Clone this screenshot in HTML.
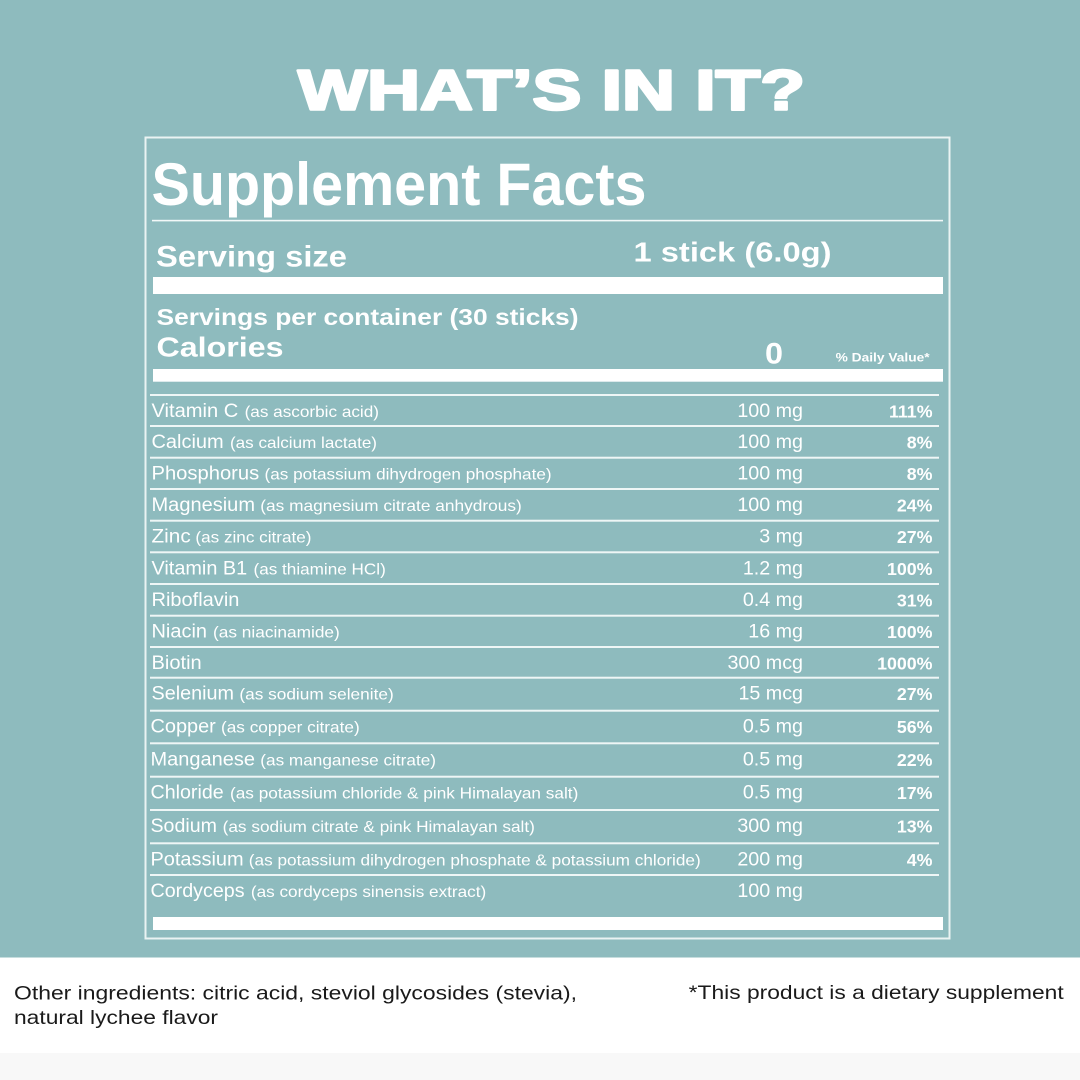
<!DOCTYPE html>
<html>
<head>
<meta charset="utf-8">
<style>
  html, body { margin: 0; padding: 0; background: #ffffff; }
  svg { display: block; }
  .w { fill: #ffffff; font-family: "Liberation Sans", Arial, sans-serif; }
  .b { font-weight: bold; }
  .k { fill: #1a1a1a; font-family: "Liberation Sans", Arial, sans-serif; }
</style>
</head>
<body>
<svg width="1080" height="1080" viewBox="0 0 1080 1080" xmlns="http://www.w3.org/2000/svg">
  <!-- backgrounds -->
  <rect x="0" y="0" width="1080" height="957.5" fill="#8ebbbe"/>
  <rect x="0" y="957.5" width="1080" height="96" fill="#ffffff"/>
  <rect x="0" y="1053" width="1080" height="27" fill="#f8f8f8"/>

  <!-- title -->
  <text class="w b" x="298" y="109.5" font-size="57" textLength="507" lengthAdjust="spacingAndGlyphs" stroke="#ffffff" stroke-width="2.6" stroke-linejoin="round">WHAT’S IN IT?</text>

  <!-- box border -->
  <rect x="145.5" y="137.5" width="804" height="801" fill="none" stroke="#eaf3f3" stroke-width="2"/>

  <!-- Supplement Facts -->
  <text class="w b" x="151.5" y="205" font-size="60" textLength="495" lengthAdjust="spacingAndGlyphs">Supplement Facts</text>
  <rect x="152" y="219.8" width="791" height="1.6" fill="#f2f8f8"/>

  <text class="w b" x="156" y="266.3" font-size="30" textLength="191" lengthAdjust="spacingAndGlyphs">Serving size</text>
  <text class="w b" x="633.5" y="261.7" font-size="28" textLength="198" lengthAdjust="spacingAndGlyphs">1 stick (6.0g)</text>
  <rect x="153" y="277" width="790" height="17" fill="#ffffff"/>

  <text class="w b" x="156.5" y="325" font-size="23.3" textLength="422" lengthAdjust="spacingAndGlyphs">Servings per container (30 sticks)</text>
  <text class="w b" x="156.5" y="356.7" font-size="28" textLength="127" lengthAdjust="spacingAndGlyphs">Calories</text>
  <text class="w b" x="765" y="363.3" font-size="30" textLength="18" lengthAdjust="spacingAndGlyphs">0</text>
  <text class="w b" x="835.6" y="361.3" font-size="12" textLength="94" lengthAdjust="spacingAndGlyphs">% Daily Value*</text>
  <rect x="153" y="369" width="790" height="12.7" fill="#ffffff"/>

  <!-- row separator lines -->
  <g fill="#eef6f6">
    <rect x="150" y="394" width="789" height="2"/>
    <rect x="150" y="425" width="789" height="2"/>
    <rect x="150" y="456.7" width="789" height="2"/>
    <rect x="150" y="488" width="789" height="2"/>
    <rect x="150" y="519.7" width="789" height="2"/>
    <rect x="150" y="551.3" width="789" height="2"/>
    <rect x="150" y="583" width="789" height="2"/>
    <rect x="150" y="614.7" width="789" height="2"/>
    <rect x="150" y="646" width="789" height="2"/>
    <rect x="150" y="676.7" width="789" height="2"/>
    <rect x="150" y="709.7" width="789" height="2"/>
    <rect x="150" y="742.3" width="789" height="2"/>
    <rect x="150" y="775.7" width="789" height="2"/>
    <rect x="150" y="809" width="789" height="2"/>
    <rect x="150" y="842.3" width="789" height="2"/>
    <rect x="150" y="874" width="789" height="2"/>
  </g>

  <!-- rows: names -->
  <g class="w" font-size="19">
    <text x="151.5" y="417" textLength="86.8" lengthAdjust="spacingAndGlyphs">Vitamin C</text>
    <text x="151.5" y="448" textLength="72.2" lengthAdjust="spacingAndGlyphs">Calcium</text>
    <text x="151.5" y="479.7" textLength="107.7" lengthAdjust="spacingAndGlyphs">Phosphorus</text>
    <text x="151.5" y="511" textLength="103.5" lengthAdjust="spacingAndGlyphs">Magnesium</text>
    <text x="151.5" y="542.7" textLength="39.2" lengthAdjust="spacingAndGlyphs">Zinc</text>
    <text x="151.5" y="574.3" textLength="95.7" lengthAdjust="spacingAndGlyphs">Vitamin B1</text>
    <text x="151.5" y="606" textLength="87.9" lengthAdjust="spacingAndGlyphs">Riboflavin</text>
    <text x="151.5" y="637.7" textLength="55.5" lengthAdjust="spacingAndGlyphs">Niacin</text>
    <text x="151.5" y="669" textLength="50.2" lengthAdjust="spacingAndGlyphs">Biotin</text>
    <text x="151.5" y="699.7" textLength="82.5" lengthAdjust="spacingAndGlyphs">Selenium</text>
    <text x="150.5" y="732.7" textLength="65.3" lengthAdjust="spacingAndGlyphs">Copper</text>
    <text x="150.5" y="765.3" textLength="104.5" lengthAdjust="spacingAndGlyphs">Manganese</text>
    <text x="150.5" y="798.7" textLength="73.2" lengthAdjust="spacingAndGlyphs">Chloride</text>
    <text x="150.5" y="832" textLength="66.4" lengthAdjust="spacingAndGlyphs">Sodium</text>
    <text x="150.5" y="865.3" textLength="93.1" lengthAdjust="spacingAndGlyphs">Potassium</text>
    <text x="150.5" y="897" textLength="94.1" lengthAdjust="spacingAndGlyphs">Cordyceps</text>
  </g>

  <!-- rows: parentheticals -->
  <g class="w" font-size="16">
    <text x="244.6" y="417" textLength="134.4" lengthAdjust="spacingAndGlyphs">(as ascorbic acid)</text>
    <text x="230" y="448" textLength="147" lengthAdjust="spacingAndGlyphs">(as calcium lactate)</text>
    <text x="264.5" y="479.7" textLength="287.1" lengthAdjust="spacingAndGlyphs">(as potassium dihydrogen phosphate)</text>
    <text x="260.3" y="511" textLength="261.5" lengthAdjust="spacingAndGlyphs">(as magnesium citrate anhydrous)</text>
    <text x="195.4" y="542.7" textLength="116.1" lengthAdjust="spacingAndGlyphs">(as zinc citrate)</text>
    <text x="253.5" y="574.3" textLength="132.3" lengthAdjust="spacingAndGlyphs">(as thiamine HCl)</text>
    <text x="213" y="637.7" textLength="126.8" lengthAdjust="spacingAndGlyphs">(as niacinamide)</text>
    <text x="239.4" y="699.7" textLength="154.3" lengthAdjust="spacingAndGlyphs">(as sodium selenite)</text>
    <text x="221" y="732.7" textLength="138.7" lengthAdjust="spacingAndGlyphs">(as copper citrate)</text>
    <text x="260.3" y="765.3" textLength="175.7" lengthAdjust="spacingAndGlyphs">(as manganese citrate)</text>
    <text x="230" y="798.7" textLength="348.3" lengthAdjust="spacingAndGlyphs">(as potassium chloride &amp; pink Himalayan salt)</text>
    <text x="222.6" y="832" textLength="312.3" lengthAdjust="spacingAndGlyphs">(as sodium citrate &amp; pink Himalayan salt)</text>
    <text x="248.8" y="865.3" textLength="451.9" lengthAdjust="spacingAndGlyphs">(as potassium dihydrogen phosphate &amp; potassium chloride)</text>
    <text x="250.9" y="897" textLength="235.3" lengthAdjust="spacingAndGlyphs">(as cordyceps sinensis extract)</text>
  </g>

  <!-- rows: amounts -->
  <g class="w" font-size="19.7" text-anchor="end">
    <text x="803" y="417">100 mg</text>
    <text x="803" y="448">100 mg</text>
    <text x="803" y="479.7">100 mg</text>
    <text x="803" y="511">100 mg</text>
    <text x="803" y="542.7">3 mg</text>
    <text x="803" y="574.3">1.2 mg</text>
    <text x="803" y="606">0.4 mg</text>
    <text x="803" y="637.7">16 mg</text>
    <text x="803" y="669">300 mcg</text>
    <text x="803" y="699.7">15 mcg</text>
    <text x="803" y="732.7">0.5 mg</text>
    <text x="803" y="765.3">0.5 mg</text>
    <text x="803" y="798.7">0.5 mg</text>
    <text x="803" y="832">300 mg</text>
    <text x="803" y="865.3">200 mg</text>
    <text x="803" y="897">100 mg</text>
  </g>

  <!-- rows: daily values -->
  <g class="w b" font-size="17.8" text-anchor="end">
    <text x="932.5" y="417.5">111%</text>
    <text x="932.5" y="448.5">8%</text>
    <text x="932.5" y="480.2">8%</text>
    <text x="932.5" y="511.5">24%</text>
    <text x="932.5" y="543.2">27%</text>
    <text x="932.5" y="574.8">100%</text>
    <text x="932.5" y="606.5">31%</text>
    <text x="932.5" y="638.2">100%</text>
    <text x="932.5" y="669.5">1000%</text>
    <text x="932.5" y="700.2">27%</text>
    <text x="932.5" y="733.2">56%</text>
    <text x="932.5" y="765.8">22%</text>
    <text x="932.5" y="799.2">17%</text>
    <text x="932.5" y="832.5">13%</text>
    <text x="932.5" y="865.8">4%</text>
  </g>

  <!-- bottom bar inside box -->
  <rect x="153" y="917" width="790" height="13" fill="#ffffff"/>

  <!-- footer text -->
  <text class="k" x="14" y="999.5" font-size="19.5" textLength="563" lengthAdjust="spacingAndGlyphs">Other ingredients: citric acid, steviol glycosides (stevia),</text>
  <text class="k" x="14" y="1024" font-size="19.5" textLength="204" lengthAdjust="spacingAndGlyphs">natural lychee flavor</text>
  <text class="k" x="688.7" y="999" font-size="19.5" textLength="375" lengthAdjust="spacingAndGlyphs">*This product is a dietary supplement</text>
</svg>
</body>
</html>
